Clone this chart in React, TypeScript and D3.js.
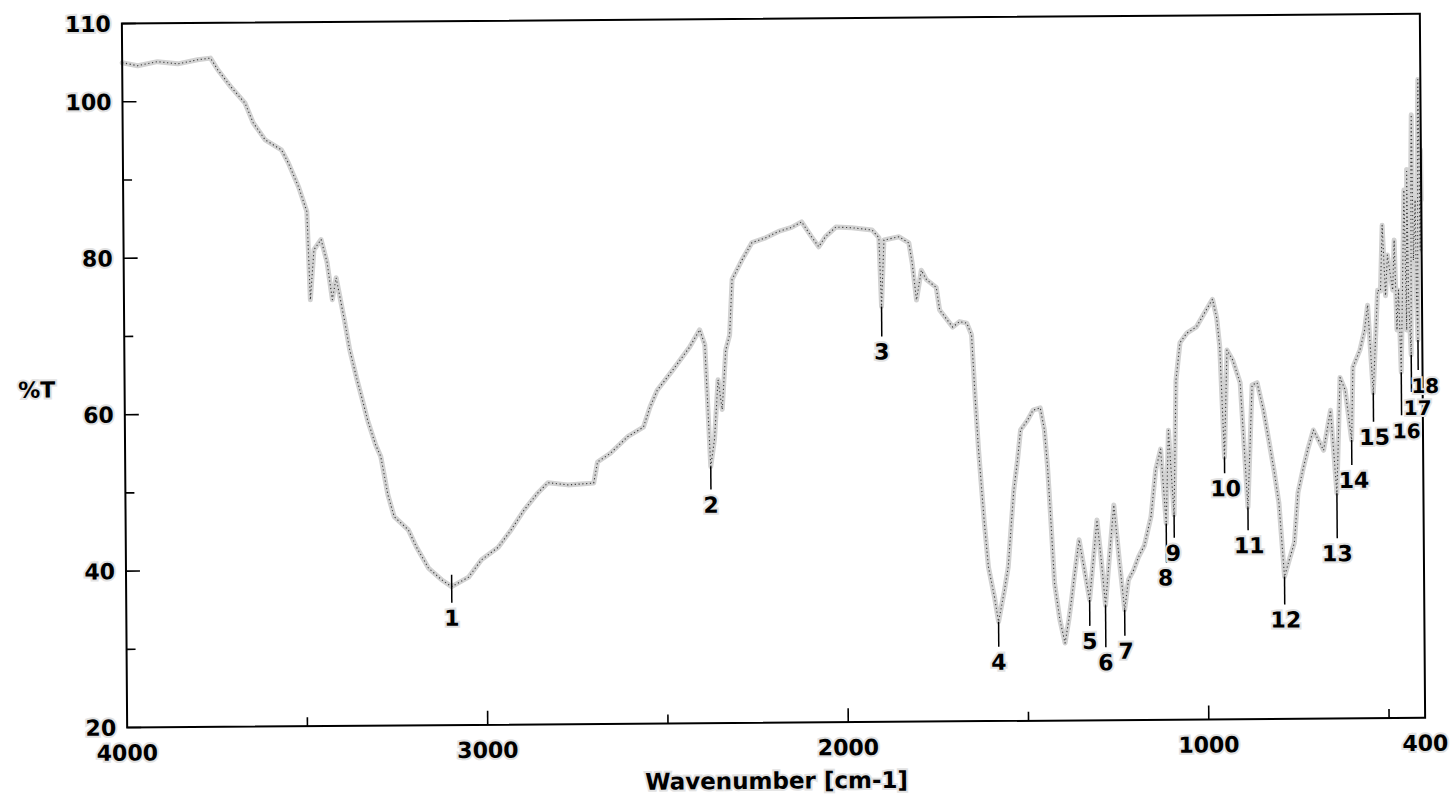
import React from "react";
import * as d3 from "d3";

// FT-IR spectrum: wavenumber (cm-1) against transmittance (%T)
const wavenumber = [
  4000, 3957, 3902, 3846, 3791, 3755, 3735, 3699, 3660, 3638, 3605, 3560, 3541, 3513,
  3491, 3483, 3472, 3452, 3436, 3422, 3411, 3389, 3375, 3355, 3341, 3327, 3305, 3291,
  3272, 3255, 3216, 3194, 3161, 3125, 3097, 3050, 3014, 2967, 2931, 2895, 2856, 2828,
  2773, 2737, 2701, 2690, 2654, 2606, 2562, 2543, 2523, 2479, 2432, 2404, 2390, 2376,
  2365, 2354, 2343, 2332, 2321, 2313, 2285, 2257, 2219, 2183, 2147, 2119, 2092, 2072,
  2053, 2024, 1980, 1924, 1905, 1899, 1891, 1849, 1822, 1813, 1802, 1788, 1774, 1747,
  1738, 1702, 1683, 1663, 1650, 1641, 1633, 1619, 1608, 1592, 1581, 1564, 1553, 1545,
  1536, 1525, 1516, 1497, 1481, 1461, 1450, 1442, 1434, 1425, 1411, 1397, 1386, 1378,
  1370, 1356, 1342, 1328, 1317, 1306, 1295, 1284, 1273, 1259, 1245, 1231, 1220, 1206,
  1192, 1175, 1156, 1142, 1128, 1114, 1106, 1092, 1084, 1072, 1053, 1026, 998, 981,
  970, 962, 951, 942, 926, 906, 887, 873, 859, 842, 828, 814, 801, 787, 773, 759, 748,
  734, 720, 704, 690, 676, 656, 640, 629, 615, 598, 593, 573, 560, 551, 537, 523, 515,
  509, 501, 495, 481, 476, 470, 465, 459, 454, 448, 443, 440, 437, 431, 428, 426, 423,
  417, 415, 412, 409, 407, 404, 401, 400,
];

const transmittance = [
  105.0, 104.6, 105.1, 104.8, 105.3, 105.5, 104.0, 101.8, 99.7, 97.2, 95.0, 93.7, 92.0, 88.9,
  85.8, 74.5, 80.9, 82.2, 79.3, 74.5, 77.3, 71.9, 68.1, 64.2, 61.7, 59.1, 55.9, 54.4,
  49.5, 46.7, 45.0, 42.8, 40.1, 38.6, 37.7, 38.9, 41.1, 42.7, 44.9, 47.4, 49.6, 50.9,
  50.6, 50.7, 50.8, 53.5, 54.6, 56.7, 57.9, 60.5, 62.6, 65.2, 68.1, 70.3, 68.4, 52.8,
  56.3, 63.9, 60.1, 67.7, 69.6, 76.7, 79.2, 81.4, 82.0, 82.8, 83.3, 84.0, 82.1, 80.8,
  82.1, 83.3, 83.2, 82.9, 81.9, 73.1, 81.6, 82.0, 81.2, 78.6, 73.9, 77.7, 76.5, 75.5,
  72.6, 70.4, 71.1, 70.9, 69.4, 61.1, 54.7, 45.7, 39.7, 35.9, 32.7, 36.7, 39.7, 44.4,
  49.5, 53.4, 57.2, 58.4, 59.7, 60.0, 57.2, 52.5, 45.7, 37.6, 32.9, 29.9, 32.9, 35.5,
  38.4, 43.1, 39.3, 35.4, 40.5, 45.6, 40.5, 34.7, 40.5, 47.5, 40.5, 34.1, 37.9, 39.1,
  40.8, 42.3, 46.0, 52.0, 54.6, 45.1, 57.0, 46.2, 63.4, 68.2, 69.4, 70.2, 72.4, 73.7,
  71.4, 67.7, 53.5, 67.2, 65.9, 63.0, 47.1, 62.7, 63.0, 59.5, 55.7, 51.8, 47.6, 38.2, 40.4, 42.5, 48.9,
  51.8, 54.4, 56.9, 55.6, 54.3, 59.4, 48.8, 63.6, 62.0, 55.6, 64.9, 67.1, 69.6, 72.8, 61.6, 74.7, 74.6,
  83.0, 74.0, 79.2, 74.7, 81.1, 69.6, 74.7, 64.2, 74.7, 87.5, 69.6, 90.1, 73.4, 66.4, 91.3, 97.1, 78.5,
  86.2, 73.4, 68.3, 96.4, 101.6, 79.8, 92.6, 86.2,
];

// Numbered absorption bands
const peakNumber = [1, 2, 3, 4, 5, 6, 7, 8, 9, 10, 11, 12, 13, 14, 15, 16, 17, 18];
const peakWavenumber = [3097, 2376, 1899, 1581, 1328, 1284, 1231, 1114, 1092, 951, 887, 787, 640, 598, 537, 459, 431, 412];
const peakTransmittance = [37.7, 52.8, 73.1, 32.7, 35.4, 34.7, 34.1, 45.1, 46.2, 53.5, 47.1, 38.2, 48.8, 55.6, 61.6, 64.2, 66.4, 68.3];

const xMajorTicks = [4000, 3000, 2000, 1000, 400];
const xMinorTicks = [3500, 2500, 1500, 500];
const yTicks = [110, 100, 90, 80, 70, 60, 50, 40, 30, 20];
const yTickLabels = [110, 100, 80, 60, 40, 20];

const W = 1455;
const H = 797;
const plot = { left: 124.5, right: 1422.5, top: 18.7, bottom: 722.7 };

// label placement below each band marker (pixels)
const labelDrop = [31, 38, 45, 40, 41, 57, 41, 54, 38, 31, 38, 43, 60, 40, 44, 58, 52, 45];
const labelShift = [0, 0, 0, 0, 0, 0, 1, -1, -1, 1, 1, 1, 0, 2, 1, 5, 6, 7];
const labelSize = [22, 22, 22, 22, 22, 22, 22, 22, 22, 22, 22, 22, 22, 22, 22, 20, 20, 20];
const tickStart = [-12, 0, 0, 0, 0, 0, 0, 0, 0, 0, 0, 0, 0, 0, 0, 0, 0, 0];

const FONT = "'DejaVu Sans', 'Liberation Sans', Arial, sans-serif";

export default function App() {
  const x = d3.scaleLinear().domain([4000, 400]).range([plot.left, plot.right]);
  const y = d3.scaleLinear().domain([20, 110]).range([plot.bottom, plot.top]);

  const points: [number, number][] = wavenumber.map((w, i) => [w, transmittance[i]]);
  const line = d3
    .line<[number, number]>()
    .x((d) => x(d[0]))
    .y((d) => y(d[1]))
    .curve(d3.curveLinear);
  const path = line(points) || "";

  const textStyle = {
    fontFamily: FONT,
    fontWeight: 700,
    fontSize: 22,
    fill: "#000",
    stroke: "#e2e2e2",
    strokeWidth: 4,
    paintOrder: "stroke",
  } as React.CSSProperties;

  const cx = (plot.left + plot.right) / 2;
  const cy = (plot.top + plot.bottom) / 2;

  return (
    <svg
      width={W}
      height={H}
      viewBox={`0 0 ${W} ${H}`}
      style={{ position: "absolute", left: 0, top: 0, background: "#fff" }}
    >
      <rect x={0} y={0} width={W} height={H} fill="#fff" />
      <g transform={`rotate(-0.43 ${cx} ${cy})`}>
        {/* spectrum trace */}
        <path d={path} fill="none" stroke="#d2d2d2" strokeWidth={5} strokeLinejoin="round" strokeLinecap="round" />
        <path d={path} fill="none" stroke="#3a3a3a" strokeWidth={1.1} strokeDasharray="1.2 2.6" strokeLinejoin="round" />

        {/* frame */}
        <rect
          x={plot.left}
          y={plot.top}
          width={plot.right - plot.left}
          height={plot.bottom - plot.top}
          fill="none"
          stroke="#000"
          strokeWidth={2}
        />

        {/* y axis ticks */}
        {yTicks.map((t) => {
          const major = yTickLabels.includes(t);
          return (
            <line
              key={`yt${t}`}
              x1={plot.left}
              x2={plot.left + (major ? 14 : 9)}
              y1={y(t)}
              y2={y(t)}
              stroke="#000"
              strokeWidth={1.6}
            />
          );
        })}
        {yTickLabels.map((t) => (
          <text key={`yl${t}`} x={plot.left - 11} y={y(t) + 8} textAnchor="end" style={textStyle}>
            {t}
          </text>
        ))}

        {/* x axis ticks */}
        {xMajorTicks
          .filter((t) => t !== 4000 && t !== 400)
          .map((t) => (
            <line key={`xt${t}`} x1={x(t)} x2={x(t)} y1={plot.bottom} y2={plot.bottom - 14} stroke="#000" strokeWidth={1.6} />
          ))}
        {xMinorTicks.map((t) => (
          <line key={`xm${t}`} x1={x(t)} x2={x(t)} y1={plot.bottom} y2={plot.bottom - 9} stroke="#000" strokeWidth={1.6} />
        ))}
        {xMajorTicks.map((t) => (
          <text key={`xl${t}`} x={x(t)} y={plot.bottom + 33} textAnchor="middle" style={textStyle}>
            {t}
          </text>
        ))}

        {/* axis titles */}
        <text x={cx} y={plot.bottom + 66} textAnchor="middle" style={{ ...textStyle, fontSize: 23 }}>
          Wavenumber [cm-1]
        </text>
        <text x={18} y={392} textAnchor="start" style={textStyle}>
          %T
        </text>

        {/* band markers */}
        {peakNumber.map((n, i) => {
          const px = x(peakWavenumber[i]);
          const py = y(peakTransmittance[i]);
          return (
            <g key={`pk${n}`}>
              <line
                x1={px}
                x2={px}
                y1={py + tickStart[i]}
                y2={py + labelDrop[i] - 15}
                stroke="#000"
                strokeWidth={1.5}
              />
              <text
                x={px + labelShift[i]}
                y={py + labelDrop[i] + 8}
                textAnchor="middle"
                style={{ ...textStyle, fontSize: labelSize[i] }}
              >
                {n}
              </text>
            </g>
          );
        })}
      </g>
    </svg>
  );
}
